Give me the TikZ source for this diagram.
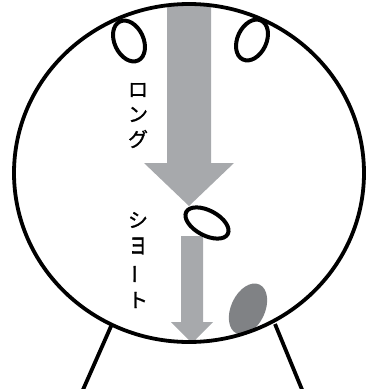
\documentclass[tikz,border=0pt]{standalone}
\usepackage{fontspec}
\newfontfamily\jpfont[FakeBold=1.2]{Noto Sans CJK JP}
\definecolor{arrowgray}{RGB}{167,169,172}
\definecolor{stonegray}{RGB}{128,130,133}
\tikzset{
  kana/.style={inner sep=0pt, font=\jpfont\fontsize{20}{20}\selectfont},
  rim/.style={line width=3.8pt, black},
  ring/.style={line width=4pt, black}
}
\begin{document}
\begin{tikzpicture}[x=1pt, y=-1pt]
  \useasboundingbox (0,0) rectangle (366,389);
  % arrows (clipped to the wheel)
  \begin{scope}
    \clip (189,173) ellipse [x radius=175, y radius=169];
    \fill[arrowgray] (167,0) -- (211,0) -- (211,163) -- (234,163) -- (189,206)
      -- (144,163) -- (167,163) -- cycle;
    \fill[arrowgray] (181,236) -- (203,236) -- (203,322) -- (213,322) -- (192,343)
      -- (171,322) -- (181,322) -- cycle;
    \fill[stonegray, rotate around={-25:(248,309)}] (248,309) ellipse [x radius=17, y radius=27];
  \end{scope}
  % wheel and legs
  \draw[rim] (189,173) ellipse [x radius=175, y radius=169];
  \draw[rim] (112,324) -- (82,392);
  \draw[rim] (275,324) -- (303,392);
  % rings
  \draw[ring, rotate around={25:(129,41)}] (129,41) ellipse [x radius=14.5, y radius=21.5];
  \draw[ring, rotate around={-25:(252,40)}] (252,40) ellipse [x radius=14.5, y radius=21.5];
  \draw[ring, rotate around={-28:(207,223)}] (207,223) ellipse [x radius=23.5, y radius=12.5];
  % labels
  \foreach \c [count=\i] in {ロ,ン,グ}
    \node[kana] (long\i) at (138,{90+24.5*(\i-1)}) {\c};
  \node[kana] (short1) at (138,220) {シ};
  \node[kana, yscale=1.4] (short2) at (138,246) {ョ};
  \node[kana, rotate=90] (short3) at (138,274) {ー};
  \node[kana] (short4) at (138,300) {ト};
\end{tikzpicture}
\end{document}
